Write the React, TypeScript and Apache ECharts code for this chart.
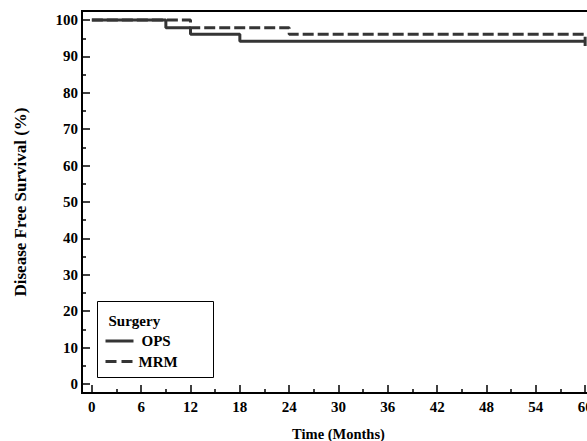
import React, { useEffect, useRef } from "react";
import * as echarts from "echarts";

const seriesNames = ["OPS", "MRM"];
const opsTimes = [0, 9, 12, 18, 60];
const opsSurvival = [100, 97.9, 96.1, 94.2, 94.2];
const mrmTimes = [0, 12, 24, 60];
const mrmSurvival = [100, 97.9, 96.1, 92.9];
const xMajorTicks = [0, 6, 12, 18, 24, 30, 36, 42, 48, 54, 60];
const xMinorTicks = [3, 9, 15, 21, 27, 33, 39, 45, 51, 57];
const yMajorTicks = [0, 10, 20, 30, 40, 50, 60, 70, 80, 90, 100];
const yMinorTicks = [5, 15, 25, 35, 45, 55, 65, 75, 85, 95];
const legendTitle = "Surgery";
const xTitle = "Time (Months)";
const yTitle = "Disease Free Survival (%)";

const FONT = '"Liberation Serif", "Times New Roman", serif';
const LINE = "#353535";

export default function App() {
  const ref = useRef<HTMLDivElement>(null);
  useEffect(() => {
    if (!ref.current) return;
    const chart = echarts.init(ref.current, null, { renderer: "svg" });
    const labelStyle = { fontFamily: FONT, fontWeight: "bold" as const, fontSize: 15, color: "#000" };
    const xRange = { min: -1.2, max: 61.2 };
    const yRange = { min: -2.5, max: 102.5 };
    chart.setOption({
      animation: false,
      backgroundColor: "#fff",
      grid: {
        left: 82,
        top: 11,
        width: 513,
        height: 382,
        containLabel: false,
        outerBoundsMode: "none",
        show: true,
        borderColor: "#000",
        borderWidth: 2,
        backgroundColor: "transparent",
      },
      xAxis: [
        {
          type: "value",
          ...xRange,
          position: "bottom",
          name: xTitle,
          nameLocation: "middle",
          nameGap: 33,
          nameTextStyle: { ...labelStyle, fontSize: 14.5 },
          axisLine: { show: true, onZero: false, lineStyle: { color: "#000", width: 2 } },
          axisTick: { show: true, inside: true, length: 8, customValues: xMajorTicks, lineStyle: { color: "#000", width: 1.5 } },
          axisLabel: { ...labelStyle, margin: 6, customValues: xMajorTicks },
          splitLine: { show: false },
        },
        {
          type: "value",
          ...xRange,
          position: "bottom",
          axisLine: { show: false, onZero: false },
          axisTick: { show: true, inside: true, length: 4, customValues: xMinorTicks, lineStyle: { color: "#000", width: 1.5 } },
          axisLabel: { show: false },
          splitLine: { show: false },
        },
      ],
      yAxis: [
        {
          type: "value",
          ...yRange,
          position: "left",
          name: yTitle,
          nameLocation: "middle",
          nameGap: 53,
          nameRotate: 90,
          nameTextStyle: { ...labelStyle, fontSize: 17 },
          axisLine: { show: true, onZero: false, lineStyle: { color: "#000", width: 2 } },
          axisTick: { show: true, inside: true, length: 8, customValues: yMajorTicks, lineStyle: { color: "#000", width: 1.5 } },
          axisLabel: { ...labelStyle, margin: 4, customValues: yMajorTicks },
          splitLine: { show: false },
        },
        {
          type: "value",
          ...yRange,
          position: "left",
          axisLine: { show: false, onZero: false },
          axisTick: { show: true, inside: true, length: 4, customValues: yMinorTicks, lineStyle: { color: "#000", width: 1.5 } },
          axisLabel: { show: false },
          splitLine: { show: false },
        },
      ],
      series: [
        {
          name: seriesNames[0],
          type: "line",
          step: "end",
          symbol: "none",
          xAxisIndex: 0,
          yAxisIndex: 0,
          data: opsTimes.map((t, i) => [t, opsSurvival[i]]),
          lineStyle: { color: LINE, width: 3, type: "solid" },
          z: 3,
        },
        {
          name: seriesNames[1],
          type: "line",
          step: "end",
          symbol: "none",
          xAxisIndex: 0,
          yAxisIndex: 0,
          data: mrmTimes.map((t, i) => [t, mrmSurvival[i]]),
          lineStyle: { color: LINE, width: 3, type: [11, 4] },
          z: 4,
        },
      ],
      graphic: [
        {
          type: "group",
          left: 97,
          top: 301,
          children: [
            { type: "rect", shape: { x: 0, y: 0, width: 116, height: 76 }, style: { fill: "#fff", stroke: "#000", lineWidth: 1 } },
            { type: "text", x: 11, y: 19, style: { text: legendTitle, font: `bold 15px ${FONT}`, fill: "#000", verticalAlign: "middle" } },
            { type: "line", shape: { x1: 8, y1: 39.5, x2: 36, y2: 39.5 }, style: { stroke: LINE, lineWidth: 3 } },
            { type: "text", x: 44, y: 39.5, style: { text: seriesNames[0], font: `bold 15px ${FONT}`, fill: "#000", verticalAlign: "middle" } },
            { type: "line", shape: { x1: 8, y1: 60, x2: 36, y2: 60 }, style: { stroke: LINE, lineWidth: 3, lineDash: [11, 5] } },
            { type: "text", x: 41, y: 60, style: { text: seriesNames[1], font: `bold 15px ${FONT}`, fill: "#000", verticalAlign: "middle" } },
          ],
        },
      ],
    });
    return () => chart.dispose();
  }, []);
  return <div ref={ref} style={{ width: 587, height: 441, position: "absolute", left: 0, top: 0 }} />;
}
